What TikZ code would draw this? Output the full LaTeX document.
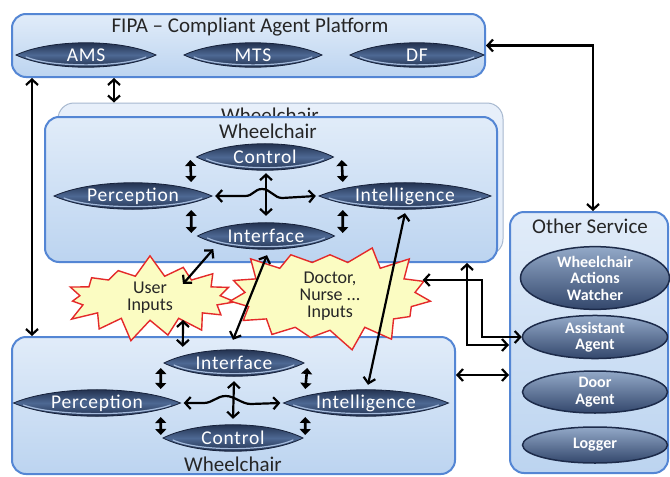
\documentclass[tikz,border=0pt]{standalone}
\usepackage{fontspec}
\setmainfont{Carlito}
\newfontfamily\lensfont{Carlito}[LetterSpace=4]
\usetikzlibrary{arrows.meta,shapes.symbols,shapes.geometric,calc}

\definecolor{boxtop}{HTML}{E1ECF9}
\definecolor{boxbot}{HTML}{BCD4F0}
\definecolor{boxedge}{HTML}{5486D4}
\definecolor{backfill}{HTML}{E7EFFA}
\definecolor{backedge}{HTML}{A7B8CF}
\definecolor{lensdark}{HTML}{16213A}
\definecolor{lensmid}{HTML}{4D6893}
\definecolor{lensrimc}{HTML}{A4BADB}
\definecolor{ovtop}{HTML}{93A9C8}
\definecolor{ovbot}{HTML}{33476C}
\definecolor{ovedge}{HTML}{1D2B4A}
\definecolor{burstfill}{HTML}{FBFCC2}
\definecolor{burstedge}{HTML}{E42A2A}

% lens-shaped agent: name, centre x, centre y, width, height, label
\newcommand\drawlens[6]{%
  \shade[lensfill] (#2-#4/2,#3) .. controls (#2-#4/4,#3-#5*0.68) and (#2+#4/4,#3-#5*0.68) .. (#2+#4/2,#3)
        .. controls (#2+#4/4,#3+#5*0.68) and (#2-#4/4,#3+#5*0.68) .. cycle;
  \draw[lensrim] (#2-#4/2+10,#3+2) .. controls (#2-#4/4,#3+#5*0.52) and (#2+#4/4,#3+#5*0.52) .. (#2+#4/2-10,#3+2);
  \node[lenslabel, minimum width=#4pt, minimum height=#5pt] (#1) at (#2,#3) {#6};
}

\tikzset{
  platform/.style={draw=boxedge, line width=2pt, rounded corners=14pt,
    top color=boxtop, bottom color=boxbot, inner sep=0pt},
  ghostbox/.style={draw=backedge, line width=1pt, rounded corners=16pt,
    fill=backfill, inner sep=0pt},
  boxtitle/.style={font=\fontsize{21}{23}\selectfont, text=black!85, inner sep=0pt},
  lensfill/.style={draw=lensdark, line width=0.8pt, top color=lensdark,
    bottom color=lensdark, middle color=lensmid},
  lensrim/.style={draw=lensrimc, line width=1.2pt, line cap=round},
  lenslabel/.style={shape=rectangle, inner sep=0pt, text=white,
    font=\lensfont\fontsize{19.5}{21}\selectfont},
  service/.style={ellipse, draw=ovedge, line width=1.5pt, top color=ovtop,
    bottom color=ovbot, inner sep=0pt, text=white, align=center,
    font=\bfseries\fontsize{16}{16.5}\selectfont},
  burst/.style={starburst, draw=burstedge, line width=1.4pt, fill=burstfill,
    starburst points=15, starburst point height=22pt, inner sep=0pt,
    align=center, text=black!85, font=\fontsize{18}{17}\selectfont},
  conn/.style={draw=black, line width=2.2pt,
    {Straight Barb[length=5.5pt,width=12pt]}-{Straight Barb[length=5.5pt,width=12pt]}},
  small/.style={draw=black, line width=2.6pt,
    {Triangle[length=6pt,width=11pt]}-{Triangle[length=6pt,width=11pt]}}
}

\begin{document}
\begin{tikzpicture}[x=1pt,y=-1pt]
\useasboundingbox (0,0) rectangle (670,477);
\fill[white] (0,0) rectangle (670,477);

% containers
\node[platform, minimum width=473pt, minimum height=63pt] (fipa) at (248.5,45.5) {};
\node[boxtitle] (fipaT) at (250,27) {FIPA – Compliant Agent Platform};

\node[ghostbox, minimum width=445pt, minimum height=152pt] (back) at (280.5,179) {};
\node[boxtitle] (backT) at (270,115) {Wheelchair};
\node[platform, minimum width=452pt, minimum height=145pt] (front) at (271,189.5) {};
\node[boxtitle] (frontT) at (268,131) {Wheelchair};

\node[platform, minimum width=443pt, minimum height=137pt] (bot) at (233.5,405.5) {};
\node[boxtitle] (botT) at (233,464) {Wheelchair};

\node[platform, minimum width=158pt, minimum height=261pt] (other) at (589,342.5) {};
\node[boxtitle] (otherT) at (590,226) {Other Service};

% platform agents
\drawlens{AMS}{86}{55}{140}{24}{AMS}
\drawlens{MTS}{253}{55}{138}{24}{MTS}
\drawlens{DF}{417}{55}{134}{24}{DF}

% upper wheelchair agents
\drawlens{Ctl1}{265}{157}{137}{26}{Control}
\drawlens{Per1}{133}{196}{158}{26}{Perception}
\drawlens{Int1}{405}{196}{172}{26}{Intelligence}
\drawlens{If1}{266}{236}{137}{26}{Interface}

% lower wheelchair agents
\drawlens{If2}{234}{363}{140}{26}{Interface}
\drawlens{Per2}{97}{403}{167}{26}{Perception}
\drawlens{Int2}{366}{403}{165}{26}{Intelligence}
\drawlens{Ctl2}{233}{438}{140}{26}{Control}

% other services
\node[service, minimum width=149pt, minimum height=57pt] (WAW) at (595,278) {Wheelchair\\Actions\\Watcher};
\node[service, minimum width=145pt, minimum height=38pt] (AA) at (595,337) {Assistant\\Agent};
\node[service, minimum width=145pt, minimum height=42pt] (DA) at (595,392) {Door\\Agent};
\node[service, minimum width=145pt, minimum height=36pt] (Log) at (595,445) {Logger};

% inputs
\node[burst, random starburst=7, minimum width=185pt, minimum height=82pt] (user) at (150,298) {User\\Inputs};
\node[burst, random starburst=3, minimum width=215pt, minimum height=90pt] (doc) at (330,296) {Doctor,\\Nurse ...\\Inputs};

% platform links
\draw[conn] ([xshift=21pt]fipa.south west) -- ([xshift=21pt]bot.north west);
\draw[conn] ([xshift=103pt]fipa.south west) -- ([xshift=103pt]fipa.south west |- back.north);
\draw[conn] (fipa.east) -| ([xshift=4pt]other.north);

% links inside the upper wheelchair
\draw[small] ($(Ctl1.west)+(-6,3)$) -- ($(Per1.east)+(-21,-14)$);
\draw[small] ($(Per1.east)+(-21,14)$) -- ($(If1.west)+(-6,-3)$);
\draw[small] ($(Ctl1.east)+(8,3)$) -- ($(Int1.west)+(24,-14)$);
\draw[small] ($(Int1.west)+(24,14)$) -- ($(If1.east)+(8,-3)$);
\draw[conn] ($(Ctl1.south)+(1,3)$) -- ($(If1.north)+(0,-7)$);
\draw[conn] ([xshift=3pt]Per1.east) -- ++(30,0)
   .. controls +(8,0) and +(-8,0) .. ++(17,-7)
   .. controls +(8,0) and +(-8,0) .. ++(20,9) -- ([xshift=-3pt]Int1.west);

% links inside the lower wheelchair
\draw[small] ($(If2.west)+(-3,5)$) -- ($(Per2.east)+(-20,-14)$);
\draw[small] ($(Per2.east)+(-20,14)$) -- ($(Ctl2.west)+(-2,-3)$);
\draw[small] ($(If2.east)+(3,5)$) -- ($(Int2.west)+(22,-14)$);
\draw[small] ($(Int2.west)+(22,14)$) -- ($(Ctl2.east)+(2,-3)$);
\draw[conn] ($(If2.south)+(0,5)$) -- ($(Ctl2.north)+(0,-6)$);
\draw[conn] ([xshift=3pt]Per2.east) -- ++(20,0)
   .. controls +(9,0) and +(-9,0) .. ++(22,-7)
   .. controls +(9,0) and +(-9,0) .. ++(25,8) -- ([xshift=-3pt]Int2.west);

% links between the wheelchairs and the inputs
\draw[conn] ($(user.center)+(33,-14)$) -- ($(If1.south west)+(16,0)$);
\draw[conn] ($(user.center)+(33,22)$) -- ($(If2.north west)+(19,-3)$);
\draw[conn] ([xshift=1pt,yshift=-6pt]If1.south) -- ([xshift=-1pt,yshift=10pt]If2.north);
\draw[conn] ([yshift=-4pt]Int1.south) -- ([xshift=2pt,yshift=5pt]Int2.north);

% links to the other services
\coordinate (rA) at (467,345);
\coordinate (rB) at (482,337);
\coordinate (rC) at (0,375);
\draw[conn] (front.south -| rA) -- (rA) -- (other.west |- rA);
\draw[conn] ([yshift=16pt]doc.east) -| (rB) -- (AA.west |- rB);
\draw[conn] (bot.east |- rC) -- (other.west |- rC);
\end{tikzpicture}
\end{document}
